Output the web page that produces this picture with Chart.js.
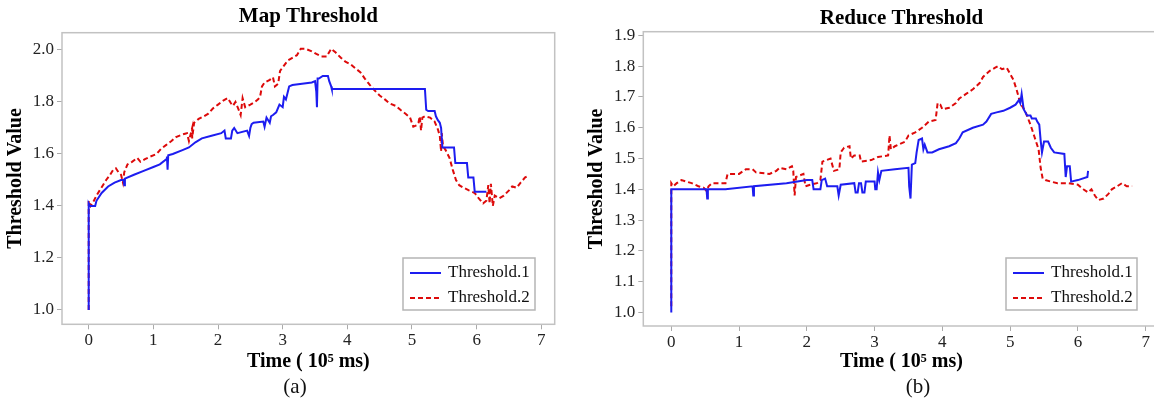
<!DOCTYPE html>
<html>
<head>
<meta charset="utf-8">
<script src="https://cdn.jsdelivr.net/npm/chart.js@4"></script>
<style>
body { margin: 0; width: 1154px; height: 399px; overflow: hidden; background: #fff; font-family: "Liberation Serif", serif; position: relative; }
canvas { position: absolute; top: 0; }
.caption { position: absolute; top: 374px; font-size: 21px; line-height: 24px; transform: translateX(-50%); color: #111; }
</style>
</head>
<body>
<canvas id="mapChart" width="577" height="399" style="left:0"></canvas>
<canvas id="reduceChart" width="594" height="399" style="left:580px"></canvas>
<div class="caption" style="left:295px">(a)</div>
<div class="caption" style="left:918px">(b)</div>
<script>
// time in 10^5 ms, threshold value
const mapThreshold1 = [
    [0, 1.0], [0, 1.41], [0.02, 1.40], [0.1, 1.40], [0.12, 1.42], [0.2, 1.45], [0.3, 1.475], [0.4, 1.49],
    [0.5, 1.50], [0.54, 1.50], [0.55, 1.48], [0.56, 1.505], [0.7, 1.52], [0.85, 1.535], [1.0, 1.55], [1.1, 1.56],
    [1.2, 1.58], [1.21, 1.59], [1.22, 1.54], [1.23, 1.595], [1.3, 1.60], [1.45, 1.615], [1.55, 1.625], [1.65, 1.645],
    [1.75, 1.66], [1.9, 1.67], [2.05, 1.68], [2.1, 1.69], [2.12, 1.66], [2.2, 1.66], [2.22, 1.69], [2.25, 1.70],
    [2.3, 1.68], [2.45, 1.69], [2.48, 1.67], [2.5, 1.70], [2.52, 1.715], [2.55, 1.72], [2.7, 1.725], [2.72, 1.705],
    [2.75, 1.74], [2.8, 1.72], [2.82, 1.745], [2.85, 1.75], [2.9, 1.76], [2.95, 1.79], [3.0, 1.78], [3.02, 1.82],
    [3.05, 1.81], [3.1, 1.86], [3.15, 1.865], [3.3, 1.87], [3.45, 1.875], [3.5, 1.88], [3.52, 1.84], [3.53, 1.78],
    [3.54, 1.89], [3.56, 1.89], [3.62, 1.90], [3.7, 1.90], [3.72, 1.88], [3.75, 1.86], [3.76, 1.85], [5.2, 1.85],
    [5.22, 1.77], [5.25, 1.765], [5.35, 1.765], [5.37, 1.745], [5.4, 1.73], [5.43, 1.72], [5.45, 1.70], [5.47, 1.625],
    [5.65, 1.625], [5.67, 1.565], [5.85, 1.565], [5.87, 1.51], [5.95, 1.51], [5.97, 1.455], [6.15, 1.455]
];
const mapThreshold2 = [
    [0, 1.0], [0, 1.42], [0.03, 1.40], [0.08, 1.42], [0.12, 1.44], [0.17, 1.46], [0.22, 1.48], [0.27, 1.50],
    [0.33, 1.52], [0.38, 1.54], [0.42, 1.545], [0.46, 1.53], [0.5, 1.52], [0.53, 1.49], [0.55, 1.53], [0.6, 1.56],
    [0.67, 1.57], [0.75, 1.585], [0.8, 1.57], [0.87, 1.58], [0.95, 1.59], [1.05, 1.60], [1.12, 1.62], [1.2, 1.635],
    [1.28, 1.65], [1.35, 1.665], [1.45, 1.675], [1.52, 1.68], [1.55, 1.65], [1.6, 1.70], [1.6, 1.66], [1.63, 1.72],
    [1.7, 1.735], [1.78, 1.745], [1.85, 1.755], [1.92, 1.775], [2.0, 1.79], [2.08, 1.805], [2.15, 1.815], [2.2, 1.795],
    [2.23, 1.785], [2.27, 1.80], [2.32, 1.77], [2.35, 1.75], [2.38, 1.815], [2.42, 1.78], [2.5, 1.79], [2.57, 1.80],
    [2.62, 1.81], [2.65, 1.82], [2.68, 1.86], [2.72, 1.875], [2.8, 1.885], [2.85, 1.895], [2.88, 1.86], [2.93, 1.87],
    [2.96, 1.92], [3.02, 1.94], [3.08, 1.96], [3.15, 1.97], [3.22, 1.98], [3.28, 2.005], [3.35, 2.005], [3.45, 1.995],
    [3.52, 1.985], [3.6, 1.975], [3.68, 1.975], [3.75, 2.005], [3.82, 1.99], [3.9, 1.97], [3.97, 1.955], [4.05, 1.945],
    [4.12, 1.93], [4.2, 1.915], [4.27, 1.89], [4.35, 1.865], [4.42, 1.845], [4.5, 1.825], [4.58, 1.81], [4.65, 1.795],
    [4.75, 1.785], [4.82, 1.77], [4.9, 1.755], [4.97, 1.74], [5.02, 1.705], [5.07, 1.71], [5.1, 1.72], [5.12, 1.745],
    [5.14, 1.69], [5.16, 1.74], [5.2, 1.745], [5.28, 1.74], [5.35, 1.725], [5.4, 1.695], [5.43, 1.67], [5.45, 1.61],
    [5.46, 1.68], [5.48, 1.63], [5.52, 1.615], [5.58, 1.585], [5.63, 1.54], [5.68, 1.50], [5.73, 1.48], [5.8, 1.47],
    [5.88, 1.46], [5.97, 1.45], [6.03, 1.43], [6.1, 1.41], [6.15, 1.42], [6.18, 1.48], [6.2, 1.41], [6.22, 1.485],
    [6.25, 1.40], [6.28, 1.44], [6.35, 1.43], [6.42, 1.44], [6.5, 1.46], [6.55, 1.475], [6.62, 1.47], [6.68, 1.49],
    [6.75, 1.51], [6.8, 1.515]
];
const reduceThreshold1 = [
    [0, 1.0], [0, 1.40], [0.52, 1.40], [0.53, 1.37], [0.54, 1.40], [0.8, 1.40], [1.2, 1.41], [1.21, 1.38],
    [1.22, 1.41], [1.7, 1.42], [2.0, 1.43], [2.08, 1.43], [2.1, 1.40], [2.2, 1.40], [2.22, 1.43], [2.27, 1.435],
    [2.3, 1.41], [2.45, 1.41], [2.47, 1.38], [2.5, 1.415], [2.7, 1.42], [2.72, 1.39], [2.75, 1.39], [2.77, 1.42],
    [2.8, 1.42], [2.82, 1.39], [2.85, 1.39], [2.87, 1.425], [3.0, 1.425], [3.01, 1.40], [3.03, 1.40], [3.05, 1.455],
    [3.07, 1.43], [3.1, 1.46], [3.3, 1.465], [3.5, 1.47], [3.51, 1.41], [3.53, 1.37], [3.55, 1.48], [3.6, 1.485],
    [3.62, 1.52], [3.65, 1.56], [3.7, 1.565], [3.72, 1.53], [3.74, 1.545], [3.78, 1.52], [3.85, 1.52], [3.95, 1.53],
    [4.1, 1.54], [4.2, 1.55], [4.25, 1.565], [4.3, 1.585], [4.45, 1.60], [4.6, 1.61], [4.65, 1.62], [4.72, 1.645],
    [4.8, 1.65], [4.9, 1.655], [5.0, 1.665], [5.08, 1.675], [5.13, 1.69], [5.15, 1.68], [5.17, 1.71], [5.2, 1.66],
    [5.25, 1.64], [5.3, 1.64], [5.32, 1.63], [5.38, 1.63], [5.4, 1.62], [5.43, 1.61], [5.45, 1.56], [5.47, 1.52],
    [5.5, 1.555], [5.56, 1.555], [5.6, 1.535], [5.65, 1.52], [5.8, 1.515], [5.82, 1.44], [5.84, 1.475], [5.88, 1.475],
    [5.9, 1.425], [6.0, 1.43], [6.14, 1.44], [6.15, 1.46]
];
const reduceThreshold2 = [
    [0, 1.02], [0, 1.42], [0.03, 1.41], [0.08, 1.42], [0.15, 1.43], [0.22, 1.425], [0.3, 1.42], [0.4, 1.41],
    [0.48, 1.405], [0.52, 1.395], [0.55, 1.41], [0.6, 1.42], [0.8, 1.42], [0.83, 1.45], [1.0, 1.45], [1.1, 1.465],
    [1.2, 1.465], [1.25, 1.455], [1.45, 1.45], [1.55, 1.46], [1.6, 1.47], [1.7, 1.465], [1.78, 1.475], [1.8, 1.46],
    [1.82, 1.38], [1.84, 1.44], [1.95, 1.45], [1.98, 1.41], [2.05, 1.415], [2.15, 1.42], [2.2, 1.43], [2.23, 1.49],
    [2.35, 1.50], [2.4, 1.46], [2.48, 1.465], [2.5, 1.52], [2.55, 1.535], [2.63, 1.54], [2.65, 1.50], [2.7, 1.51],
    [2.78, 1.51], [2.8, 1.49], [2.95, 1.495], [3.05, 1.505], [3.2, 1.51], [3.22, 1.575], [3.24, 1.53], [3.3, 1.54],
    [3.45, 1.555], [3.5, 1.575], [3.6, 1.585], [3.7, 1.60], [3.8, 1.62], [3.9, 1.625], [3.93, 1.68], [3.97, 1.675],
    [4.0, 1.66], [4.1, 1.665], [4.2, 1.68], [4.25, 1.695], [4.35, 1.71], [4.45, 1.725], [4.55, 1.745], [4.6, 1.765],
    [4.7, 1.785], [4.78, 1.795], [4.82, 1.80], [4.88, 1.79], [4.95, 1.795], [5.0, 1.775], [5.05, 1.755], [5.1, 1.72],
    [5.15, 1.68], [5.22, 1.655], [5.3, 1.61], [5.36, 1.57], [5.42, 1.53], [5.45, 1.47], [5.48, 1.435], [5.52, 1.43],
    [5.6, 1.425], [5.7, 1.42], [5.85, 1.42], [6.0, 1.415], [6.08, 1.40], [6.15, 1.39], [6.2, 1.40], [6.25, 1.38],
    [6.3, 1.365], [6.38, 1.37], [6.45, 1.385], [6.5, 1.40], [6.58, 1.41], [6.65, 1.42], [6.72, 1.41], [6.8, 1.41]
];
const seriesLabels = ['Threshold.1', 'Threshold.2'];
const timeTicks = [0, 1, 2, 3, 4, 5, 6, 7];

Chart.defaults.font.family = '"Liberation Serif", "Times New Roman", serif';
Chart.defaults.color = '#111';

// grey box round the plot area and the legend in the lower right corner
const frameLegend = {
    id: 'frameLegend',
    afterDatasetsDraw(chart, args, opts) {
        let ctx = chart.ctx;
        let a = chart.chartArea;
        ctx.save();
        ctx.strokeStyle = '#c2c2c2';
        ctx.lineWidth = 1.5;
        ctx.strokeRect(a.left, a.top, a.right - a.left, a.bottom - a.top);

        let x = a.right - opts.right - opts.width;
        let y = a.bottom - opts.bottom - opts.height;
        ctx.fillStyle = '#fff';
        ctx.fillRect(x, y, opts.width, opts.height);
        ctx.strokeStyle = '#b5b5b5';
        ctx.strokeRect(x, y, opts.width, opts.height);
        chart.data.datasets.forEach((ds, i) => {
            let ly = y + 15 + i * 25;
            ctx.beginPath();
            ctx.setLineDash(ds.borderDash || []);
            ctx.strokeStyle = ds.borderColor;
            ctx.lineWidth = 2;
            ctx.moveTo(x + 7, ly);
            ctx.lineTo(x + 38, ly);
            ctx.stroke();
            ctx.setLineDash([]);
            ctx.fillStyle = '#111';
            ctx.font = '17px "Liberation Serif"';
            ctx.textBaseline = 'middle';
            ctx.fillText(ds.label, x + 45, ly);
        });
        ctx.restore();
    }
};

function toPoints(pairs) {
    return pairs.map(p => ({ x: p[0], y: p[1] }));
}

function makeChart(id, title, first, second, cfg) {
    let tickFont = { size: 17 };
    return new Chart(document.getElementById(id), {
        type: 'line',
        data: {
            datasets: [
                { label: seriesLabels[0], data: toPoints(first), borderColor: '#1d1df0', borderWidth: 2, pointRadius: 0, tension: 0 },
                { label: seriesLabels[1], data: toPoints(second), borderColor: '#dd0a0a', borderWidth: 2, borderDash: [5, 3], pointRadius: 0, tension: 0 }
            ]
        },
        options: {
            responsive: false,
            animation: false,
            devicePixelRatio: 1,
            layout: { padding: { left: 0, right: cfg.padRight, top: 0, bottom: 25 } },
            plugins: {
                legend: { display: false },
                tooltip: { enabled: false },
                title: {
                    display: true, text: title, fullSize: false,
                    font: { size: 21, weight: 'bold' }, color: '#000',
                    padding: { top: cfg.titleTop, bottom: cfg.titleBottom }
                },
                frameLegend: { width: cfg.legendWidth, height: 52, right: cfg.legendRight, bottom: cfg.legendBottom }
            },
            scales: {
                x: {
                    type: 'linear', min: -0.413, max: 7.207,
                    afterBuildTicks: s => { s.ticks = timeTicks.map(v => ({ value: v })); },
                    afterFit: s => { s.height = cfg.xHeight; },
                    ticks: { font: tickFont, color: '#222', padding: 1, includeBounds: false },
                    grid: { drawOnChartArea: false, tickLength: 5, color: '#aaa' },
                    border: { display: false },
                    title: { display: true, text: 'Time ( 10\u2075 ms)', font: { size: 20, weight: 'bold' }, color: '#000', padding: { top: 0, bottom: 0 } }
                },
                y: {
                    min: cfg.yMin, max: cfg.yMax,
                    afterFit: s => { s.width = cfg.yWidth; },
                    ticks: { stepSize: cfg.yStep, font: tickFont, color: '#222', padding: 3, includeBounds: false, callback: v => v.toFixed(1) },
                    grid: { drawOnChartArea: false, tickLength: 5, color: '#aaa' },
                    border: { display: false },
                    title: { display: true, text: 'Threshold Value', font: { size: 20, weight: 'bold' }, color: '#000', padding: { top: cfg.yTitlePad, bottom: 0 } }
                }
            }
        },
        plugins: [frameLegend]
    });
}

makeChart('mapChart', 'Map Threshold', mapThreshold1, mapThreshold2, {
    padRight: 22.3, titleTop: 4.1, titleBottom: 3.4, xHeight: 49.7, yWidth: 62,
    yMin: 0.945, yMax: 2.0665, yStep: 0.2, yTitlePad: 4,
    legendWidth: 132, legendRight: 19.7, legendBottom: 14.3
});
makeChart('reduceChart', 'Reduce Threshold', reduceThreshold1, reduceThreshold2, {
    padRight: 14.3, titleTop: 5.7, titleBottom: 0.8, xHeight: 48, yWidth: 63.3,
    yMin: 0.956, yMax: 1.912, yStep: 0.1, yTitlePad: 5.3,
    legendWidth: 131, legendRight: 22.7, legendBottom: 16
});
</script>
</body>
</html>
